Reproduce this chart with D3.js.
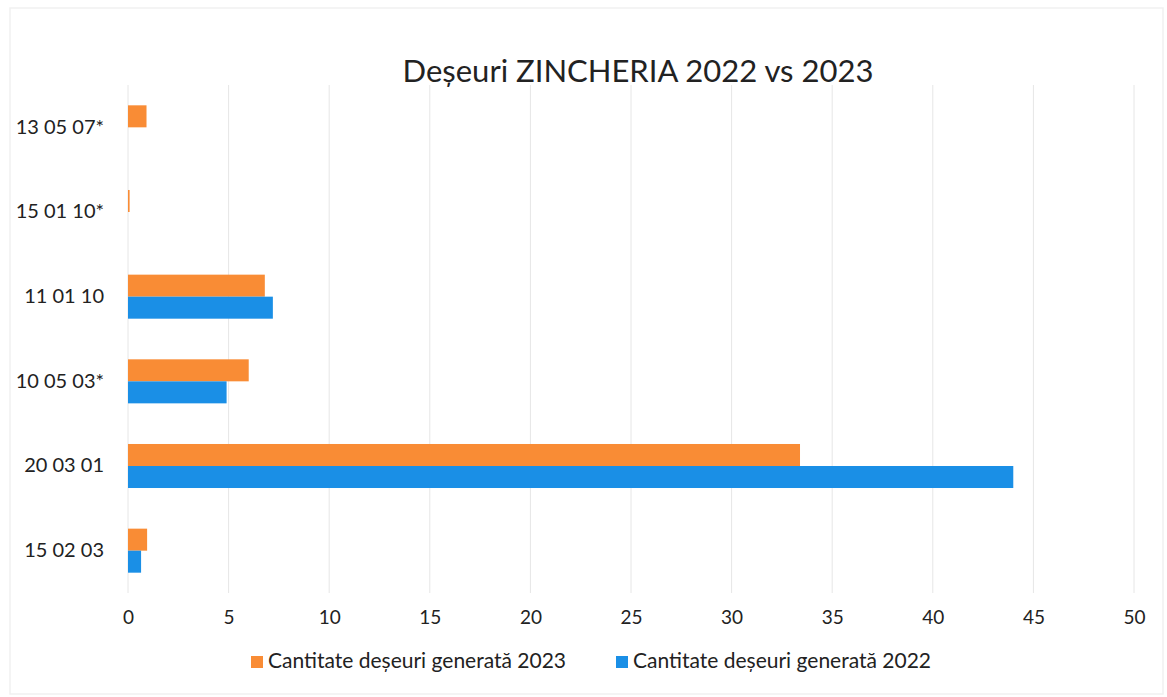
<!DOCTYPE html>
<html>
<head>
<meta charset="utf-8">
<script src="https://cdn.jsdelivr.net/npm/d3@7"></script>
<style>
  body { margin: 0; background: #fff; }
  svg text { font-family: Lato, "Open Sans", sans-serif; fill: #222; }
</style>
</head>
<body>
<svg id="chart" width="1167" height="697"></svg>
<script>
// categories top to bottom, as drawn
const categories = ["13 05 07*", "15 01 10*", "11 01 10", "10 05 03*", "20 03 01", "15 02 03"];
const values2023 = [0.92, 0.08, 6.8, 6.0, 33.4, 0.95];
const values2022 = [0, 0, 7.2, 4.9, 44.0, 0.65];
const seriesNames = ["Cantitate deșeuri generată 2023", "Cantitate deșeuri generată 2022"];
const xTicks = [0, 5, 10, 15, 20, 25, 30, 35, 40, 45, 50];

let margin = { top: 85, right: 33, bottom: 104, left: 128 }
let svg = d3.select("#chart")
let width = +svg.attr("width") - margin.left - margin.right;
let height = +svg.attr("height") - margin.top - margin.bottom;

// faint frame from the scan
svg.append("rect")
  .attr("x", 10).attr("y", 8).attr("width", 1153).attr("height", 686)
  .attr("fill", "none").attr("stroke", "#f1f1f1").attr("stroke-width", 1.5);

let g = svg.append("g").attr("transform", `translate(${margin.left}, ${margin.top})`);

let xScale = d3.scaleLinear().domain([0, 50]).range([0, 1006]);
let yScale = d3.scaleBand().domain(categories).range([0, height]).paddingInner(0.48).paddingOuter(0.24);
let sub = d3.scaleBand().domain(["2023", "2022"]).range([0, yScale.bandwidth()]);
let colors = { "2023": "#f98c35", "2022": "#1a8fe6" };

// gridlines
g.append("g")
  .selectAll("line")
  .data(xTicks)
  .join("line")
  .attr("x1", d => xScale(d)).attr("x2", d => xScale(d))
  .attr("y1", 0).attr("y2", height)
  .attr("stroke", "#e6e6e6").attr("stroke-width", 1);

// x tick labels
g.append("g")
  .attr("transform", `translate(0, ${height})`)
  .call(d3.axisBottom(xScale).tickValues(xTicks).tickSize(0).tickPadding(18))
  .call(a => a.select(".domain").remove())
  .selectAll("text")
  .style("font-size", "19px")
  .style("font-family", "Lato, sans-serif")
  .attr("fill", "#222");

// y category labels
g.append("g")
  .call(d3.axisLeft(yScale).tickSize(0).tickPadding(24))
  .call(a => a.select(".domain").remove())
  .selectAll("text")
  .style("font-size", "20px")
  .style("font-family", "Lato, sans-serif")
  .attr("fill", "#222");

// bars
const rows = categories.map((c, i) => ({ cat: c, "2023": values2023[i], "2022": values2022[i] }));
for (const key of ["2023", "2022"]) {
  g.append("g")
    .selectAll("rect")
    .data(rows)
    .join("rect")
    .attr("x", xScale(0))
    .attr("y", d => yScale(d.cat) + sub(key))
    .attr("width", d => xScale(d[key]) - xScale(0))
    .attr("height", sub.bandwidth())
    .attr("fill", colors[key]);
}

// title
svg.append("text")
  .attr("x", 638).attr("y", 82)
  .attr("text-anchor", "middle")
  .style("font-size", "31px")
  .text("Deșeuri ZINCHERIA 2022 vs 2023");

// legend
const legendX = [251, 616];
const legendKeys = ["2023", "2022"];
for (let i = 0; i < 2; i++) {
  svg.append("rect")
    .attr("x", legendX[i]).attr("y", 656)
    .attr("width", 12).attr("height", 12)
    .attr("fill", colors[legendKeys[i]]);
  svg.append("text")
    .attr("x", legendX[i] + 17).attr("y", 663)
    .attr("dominant-baseline", "middle")
    .style("font-size", "21px")
    .text(seriesNames[i]);
}
</script>
</body>
</html>
